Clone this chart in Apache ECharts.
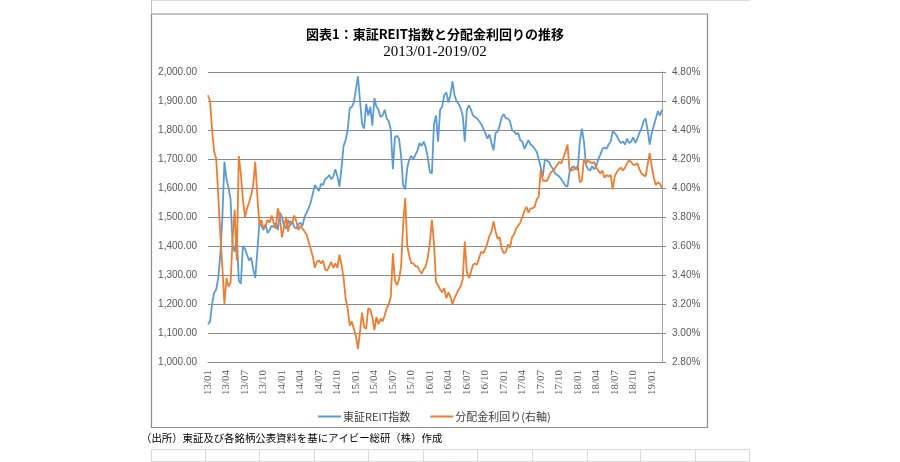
<!DOCTYPE html>
<html><head><meta charset="utf-8">
<script src="https://cdn.jsdelivr.net/npm/echarts@6/dist/echarts.min.js"></script>
<style>html,body{margin:0;padding:0;background:#fff}#c{width:900px;height:462px}</style>
</head><body><div id="c"></div>
<script>
const titleText = '図表1：東証REIT指数と分配金利回りの推移';
const subTitleText = '2013/01-2019/02';
const seriesNames = ['東証REIT指数', '分配金利回り(右軸)'];
const footnote = '（出所）東証及び各銘柄公表資料を基にアイビー総研（株）作成';
const xTickLabels = ['13/01','13/04','13/07','13/10','14/01','14/04','14/07','14/10','15/01','15/04','15/07','15/10','16/01','16/04','16/07','16/10','17/01','17/04','17/07','17/10','18/01','18/04','18/07','18/10','19/01'];
const leftTicks = {min: 1000, max: 2000, interval: 100};
const rightTicks = {min: 2.8, max: 4.8, interval: 0.2};

// sample dates: 1st, 11th, 21st of each month, 2013/01 - 2019/02
const dates = [];
for (let y = 2013; y <= 2019; y++) {
  for (let m = 1; m <= 12; m++) {
    if (y === 2019 && m > 2) break;
    for (const d of [1, 11, 21]) {
      dates.push(y + '/' + String(m).padStart(2, '0') + '/' + String(d).padStart(2, '0'));
    }
  }
}

const reitIndex = [
1130,1140,1200,1240,1250,1290,1370,1500,1690,1630,
1600,1560,1400,1380,1440,1280,1270,1400,1390,1370,
1350,1360,1320,1290,1380,1480,1470,1455,1475,1445,
1455,1470,1465,1480,1455,1515,1500,1470,1460,1490,
1470,1485,1465,1460,1475,1480,1470,1500,1515,1530,
1550,1580,1610,1600,1590,
1615,1610,1630,1635,1645,1630,1640,1665,1640,1605,
1670,1745,1765,1800,1875,1880,1895,1940,1985,1900,
1820,1805,1890,1850,1880,1815,1910,1880,1870,1845,
1850,1870,1840,1830,1800,1665,1775,1780,1770,1710,
1610,1595,1670,1700,1710,1700,1715,1730,1755,1745,
1760,1740,1705,1655,
1650,1820,1850,1760,1870,1880,1920,1930,1895,1920,
1968,1920,1900,1890,1875,1850,1760,1870,1885,1870,
1850,1845,1840,1830,1820,1805,1790,1770,1785,1755,
1730,1790,1795,1815,1845,1855,1840,1840,1830,1800,
1795,1785,1790,1765,1760,1735,1750,1765,1750,1745,
1735,1725,1700,1670,1640,1700,
1695,1690,1675,1665,1650,1645,1640,1630,1620,1608,
1605,1655,1670,1675,1665,1665,1760,1805,1760,1680,
1665,1660,1675,1665,1675,1700,1715,1735,1740,1735,
1750,1760,1795,1790,1780,1765,1755,1760,1750,1770,
1755,1760,1775,1755,1770,1790,1805,1830,1840,1800,
1750,1790,1815,1840,1865,1850,1870
];

const yieldPct = [
4.64,4.60,4.40,4.25,4.20,3.95,3.68,3.45,3.20,3.38,
3.32,3.35,3.65,3.85,3.50,4.22,4.10,3.92,3.80,3.86,
3.90,3.95,4.02,4.18,3.95,3.75,3.78,3.72,3.74,3.78,
3.76,3.81,3.76,3.72,3.86,3.80,3.66,3.73,3.80,3.70,
3.77,3.76,3.81,3.77,3.71,3.74,3.72,3.70,3.68,3.63,
3.58,3.53,3.45,3.49,3.50,
3.48,3.50,3.44,3.43,3.46,3.49,3.45,3.48,3.45,3.54,
3.47,3.38,3.24,3.17,3.05,3.08,3.03,2.98,2.89,3.01,
3.14,3.04,3.03,3.17,3.16,3.11,3.02,3.11,3.06,3.10,
3.08,3.12,3.17,3.20,3.25,3.55,3.36,3.33,3.37,3.46,
3.75,3.93,3.60,3.53,3.48,3.48,3.46,3.46,3.43,3.41,
3.44,3.46,3.52,3.62,
3.78,3.62,3.35,3.33,3.30,3.28,3.31,3.24,3.28,3.25,
3.20,3.24,3.27,3.30,3.32,3.37,3.63,3.42,3.38,3.42,
3.47,3.48,3.47,3.52,3.56,3.55,3.58,3.62,3.67,3.70,
3.77,3.70,3.65,3.66,3.58,3.55,3.56,3.61,3.59,3.66,
3.68,3.72,3.74,3.76,3.80,3.84,3.87,3.83,3.86,3.86,
3.87,3.92,3.94,4.13,4.05,4.05,
4.05,4.08,4.11,4.12,4.14,4.16,4.18,4.17,4.21,4.25,
4.30,4.12,4.12,4.13,4.14,4.15,4.04,4.05,4.20,4.17,
4.19,4.18,4.17,4.18,4.14,4.12,4.10,4.12,4.07,4.09,
4.08,4.09,3.99,4.08,4.11,4.13,4.14,4.12,4.14,4.17,
4.19,4.18,4.16,4.16,4.17,4.13,4.10,4.09,4.08,4.16,
4.24,4.15,4.07,4.02,4.04,4.03,4.00
];

const fmtTick = v => v.slice(2, 4) + '/' + v.slice(5, 7);
const GRID = '#898989';
const LABEL = '#595959';
const sheetLine = '#d9d9d9';

const graphics = [
  {type:'line', shape:{x1:151, y1:0.5, x2:750, y2:0.5}, style:{stroke:sheetLine, lineWidth:1}, silent:true},
  {type:'line', shape:{x1:151.5, y1:0, x2:151.5, y2:14}, style:{stroke:'#bfbfbf', lineWidth:1}, silent:true},
  {type:'rect', shape:{x:151.5, y:14, width:556, height:413.5}, style:{fill:'none', stroke:'#8c8c8c', lineWidth:1.2}, silent:true, z:-1},
  {type:'line', shape:{x1:151, y1:449.5, x2:750, y2:449.5}, style:{stroke:sheetLine, lineWidth:1}, silent:true},
  {type:'line', shape:{x1:151, y1:461.5, x2:750, y2:461.5}, style:{stroke:sheetLine, lineWidth:1}, silent:true},
  {type:'text', left:141, top:433, style:{text: footnote, font:'10.4px "Noto Sans CJK JP"', fill:'#000'}, silent:true}
];
[151, 205, 259, 314, 368, 423, 477, 532, 587, 640, 695, 749].forEach(x => {
  graphics.push({type:'line', shape:{x1:x+0.5, y1:449, x2:x+0.5, y2:462}, style:{stroke:sheetLine, lineWidth:1}, silent:true});
});

const chart = echarts.init(document.getElementById('c'), null, {renderer:'canvas'});
chart.setOption({
  animation: false,
  backgroundColor: '#fff',
  title: [
    {text: titleText, left: 430, top: 23, textAlign: 'center',
     textStyle: {fontFamily: '"Noto Sans CJK JP"', fontSize: 13, fontWeight: 'bold', color: '#000'}},
    {text: subTitleText, left: 430, top: 40, textAlign: 'center',
     textStyle: {fontFamily: '"Liberation Serif"', fontSize: 15, fontWeight: 'normal', color: '#000'}}
  ],
  legend: {
    left: 313, top: 406, itemGap: 20, itemWidth: 23, itemHeight: 2,
    icon: 'rect',
    textStyle: {fontFamily: '"Noto Sans CJK JP"', fontSize: 11, color: '#404040', padding: [0,0,0,-3]},
    data: seriesNames
  },
  grid: {left: 208, right: 238, top: 72, bottom: 100, containLabel: false},
  xAxis: {
    type: 'category', data: dates, boundaryGap: false,
    axisLine: {show: true, lineStyle: {color: GRID, width: 1}},
    axisTick: {show: false},
    splitLine: {show: false},
    axisLabel: {
      rotate: 90, margin: 8, color: LABEL, fontFamily: '"Liberation Serif"', fontSize: 11,
      interval: (idx, v) => v.endsWith('/01') && xTickLabels.includes(fmtTick(v)),
      formatter: v => fmtTick(v)
    }
  },
  yAxis: [
    {type: 'value', min: leftTicks.min, max: leftTicks.max, interval: leftTicks.interval,
     axisLine: {show: false}, axisTick: {show: false},
     splitLine: {show: true, lineStyle: {color: GRID, width: 1}},
     axisLabel: {margin: 11, color: LABEL, fontFamily: '"Liberation Sans"', fontSize: 10,
       formatter: v => v.toLocaleString('en-US', {minimumFractionDigits: 2, maximumFractionDigits: 2})}},
    {type: 'value', min: rightTicks.min, max: rightTicks.max, interval: rightTicks.interval, position: 'right',
     axisLine: {show: true, lineStyle: {color: '#a6a6a6', width: 1}},
     axisTick: {show: true, length: 4, lineStyle: {color: GRID}},
     splitLine: {show: false},
     axisLabel: {margin: 10, color: LABEL, fontFamily: '"Liberation Sans"', fontSize: 10,
       formatter: v => v.toFixed(2) + '%'}}
  ],
  series: [
    {name: seriesNames[0], type: 'line', yAxisIndex: 0, data: reitIndex, symbol: 'none',
     lineStyle: {color: '#5b9bd5', width: 1.8}, itemStyle: {color: '#5b9bd5'}},
    {name: seriesNames[1], type: 'line', yAxisIndex: 1, data: yieldPct, symbol: 'none',
     lineStyle: {color: '#ed7d31', width: 1.8}, itemStyle: {color: '#ed7d31'}}
  ],
  graphic: graphics
});
</script></body></html>
